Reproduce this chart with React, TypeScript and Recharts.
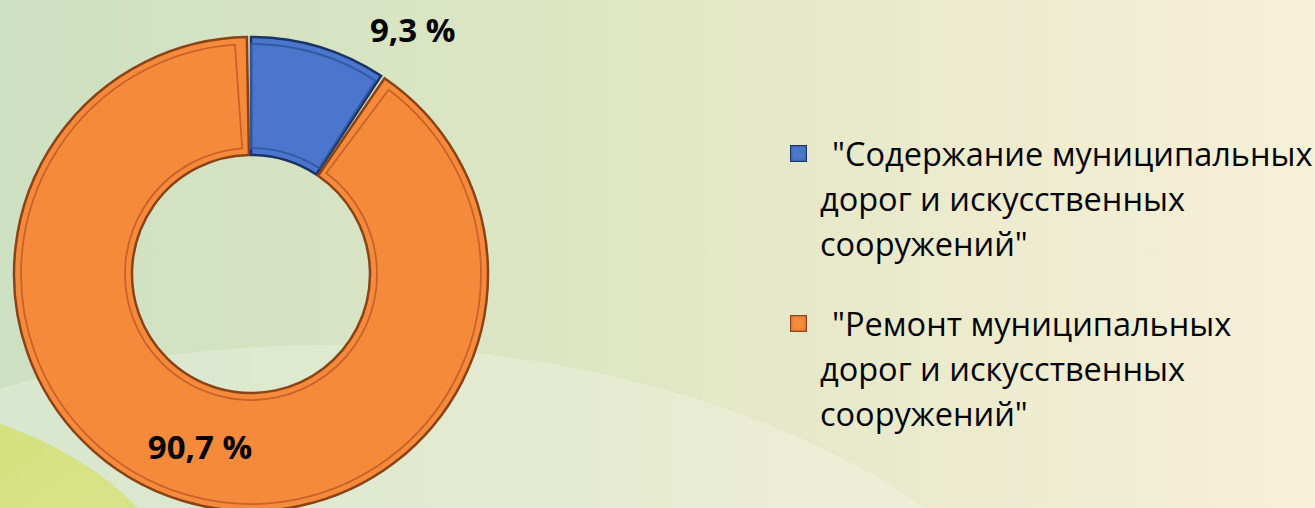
import React from 'react';
import { PieChart, Pie, Cell, Legend } from 'recharts';

const categories = [
  '"Содержание муниципальных дорог и искусственных сооружений"',
  '"Ремонт муниципальных дорог и искусственных сооружений"',
];
const shares = [9.3, 90.7];
const valueLabels = ['9,3 %', '90,7 %'];
const fills = ['#4a77cd', '#f68a3b'];
const edges = ['#1c3366', '#8a4216'];
const bevels = ['#35599f', '#c8622a'];

const data = categories.map((name, i) => ({ name, value: shares[i], label: valueLabels[i] }));

const FONT = '"Open Sans", "Noto Sans", sans-serif';
const RAD = Math.PI / 180;

const renderLabel = (p: any) => {
  const { cx, cy, innerRadius, outerRadius, midAngle, endAngle, index } = p;
  let ang = midAngle;
  let r = (innerRadius + outerRadius) / 2;
  if (index === 0) {
    ang = endAngle;
    r = outerRadius * 1.243;
  }
  const x = cx + r * Math.cos(-ang * RAD);
  const y = cy + r * Math.sin(-ang * RAD);
  return (
    <text
      x={x}
      y={y + 2}
      textAnchor="middle"
      dominantBaseline="central"
      fontFamily={FONT}
      fontWeight={700}
      fontSize={33}
      fill="#000"
    >
      {data[index].label}
    </text>
  );
};

const wrapName = (s: string) => s.replace(/(ных) /g, '$1\n');

const LegendContent = (props: any) => {
  const seen = new Set<string>();
  const items = (props.payload || [])
    .filter((e: any) => {
      if (seen.has(e.value)) return false;
      seen.add(e.value);
      return true;
    })
    .map((e: any) => ({ ...e, idx: categories.indexOf(e.value) }))
    .sort((a: any, b: any) => a.idx - b.idx);
  return (
    <div style={{ fontFamily: FONT, fontSize: 32.5, lineHeight: '45px', color: '#000' }}>
      {items.map((e: any, i: number) => (
        <div key={i} style={{ position: 'relative', paddingLeft: 32, marginBottom: i === 0 ? 35 : 0 }}>
          <span
            style={{
              position: 'absolute',
              left: 2,
              top: 14,
              width: 15,
              height: 15,
              background: fills[e.idx],
              border: `1.5px solid ${edges[e.idx]}`,
              boxShadow: 'inset 0 0 3px rgba(0,0,0,0.35)',
            }}
          />
          <div style={{ textIndent: 12, whiteSpace: 'pre-line' }}>{wrapName(e.value)}</div>
        </div>
      ))}
    </div>
  );
};

export default function App() {
  return (
    <div style={{ position: 'fixed', left: 0, top: 0, width: 1315, height: 508, overflow: 'hidden' }}>
      <svg width={1315} height={508} style={{ position: 'absolute', left: 0, top: 0 }}>
        <defs>
          <linearGradient id="bg" x1="0" y1="0" x2="1" y2="0">
            <stop offset="0" stopColor="#cde0c1" />
            <stop offset="0.45" stopColor="#dee6c3" />
            <stop offset="0.8" stopColor="#efecd0" />
            <stop offset="1" stopColor="#f6f0d9" />
          </linearGradient>
          <linearGradient id="yg" x1="0" y1="0" x2="1" y2="1">
            <stop offset="0" stopColor="#d0df72" />
            <stop offset="1" stopColor="#dde697" />
          </linearGradient>
        </defs>
        <rect x={0} y={0} width={1315} height={508} fill="url(#bg)" />
        <ellipse cx={330} cy={800} rx={776} ry={455} fill="#ffffff" opacity={0.22} />
        <ellipse cx={-150} cy={650} rx={350} ry={250} fill="url(#yg)" />
      </svg>
      <div style={{ position: 'absolute', left: 0, top: 0 }}>
        <PieChart width={1315} height={508} margin={{ top: 0, right: 0, bottom: 0, left: 0 }}>
          <Pie
            data={data}
            dataKey="value"
            nameKey="name"
            cx={251}
            cy={274}
            innerRadius={119}
            outerRadius={237}
            startAngle={90}
            endAngle={-270}
            paddingAngle={1}
            strokeWidth={2.5}
            label={renderLabel}
            labelLine={false}
            isAnimationActive={false}
          >
            {data.map((d, i) => (
              <Cell key={i} fill={fills[i]} stroke={edges[i]} />
            ))}
          </Pie>
          <Pie
            data={data}
            dataKey="value"
            nameKey="name"
            cx={251}
            cy={274}
            innerRadius={126}
            outerRadius={230}
            startAngle={90}
            endAngle={-270}
            paddingAngle={4}
            strokeWidth={1.8}
            legendType="none"
            isAnimationActive={false}
          >
            {data.map((d, i) => (
              <Cell key={i} fill="none" stroke={bevels[i]} />
            ))}
          </Pie>
          <Legend
            layout="vertical"
            verticalAlign="top"
            align="right"
            content={<LegendContent />}
            wrapperStyle={{ left: 788, top: 131, right: 'auto', width: 527 }}
          />
        </PieChart>
      </div>
    </div>
  );
}
